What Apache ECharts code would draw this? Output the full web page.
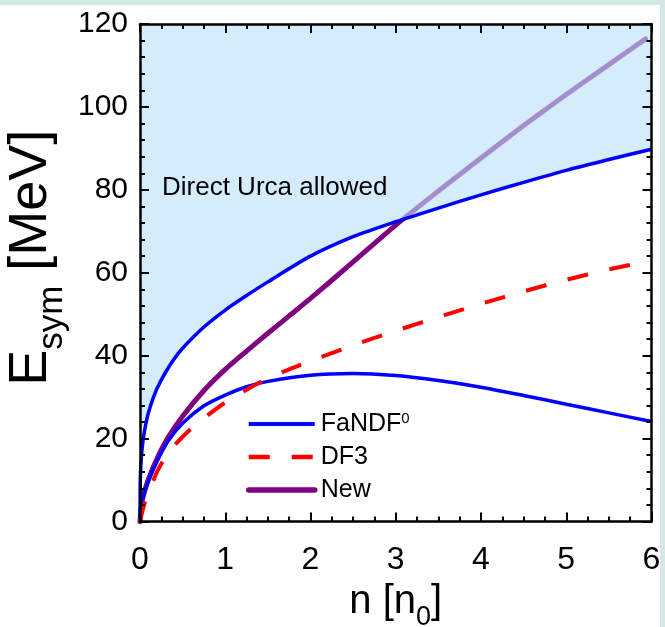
<!DOCTYPE html>
<html>
<head>
<meta charset="utf-8">
<script src="https://cdn.jsdelivr.net/npm/echarts@6/dist/echarts.min.js"></script>
<style>
html,body{margin:0;padding:0;background:#fff;}
#chart{width:665px;height:627px;}
</style>
</head>
<body>
<div id="chart"></div>
<script>
// ---- data ----
var fanUpperN = [0, 0.002, 0.005, 0.01, 0.02, 0.04, 0.07, 0.1, 0.15, 0.2, 0.3, 0.4, 0.5, 0.75, 1.0, 1.25, 1.5, 2.0, 2.5, 3.0, 3.5, 4.0, 4.5, 5.0, 5.5, 6.0];
var fanUpperE = [0, 8.5, 11.1, 13.5, 16.5, 20.2, 23.7, 26.3, 29.5, 32.1, 36.0, 39.2, 41.8, 46.9, 51.0, 54.5, 57.8, 64.0, 68.7, 72.3, 75.6, 78.8, 81.8, 84.7, 87.3, 89.8];

var fanLowerN = [0, 0.02, 0.05, 0.1, 0.2, 0.33, 0.5, 0.75, 1.0, 1.25, 1.5, 2.0, 2.5, 3.0, 3.5, 4.0, 4.5, 5.0, 5.5, 6.0];
var fanLowerE = [0, 4, 6.8, 9.8, 14.5, 19.4, 23.7, 27.9, 30.5, 32.5, 33.8, 35.3, 35.7, 35.2, 34.0, 32.4, 30.4, 28.3, 26.2, 24.1];

var df3N = [0, 0.05, 0.1, 0.2, 0.3, 0.4, 0.6, 0.8, 1.0, 1.25, 1.5, 1.75, 2.0, 2.5, 3.0, 3.5, 4.0, 4.5, 5.0, 5.5, 6.0];
var df3E = [0, 4.2, 7, 12, 15.6, 18.3, 22.4, 25.7, 28.7, 31.8, 34.5, 36.7, 38.7, 42.5, 46.0, 49.3, 52.5, 55.5, 58.3, 60.8, 63.0];

var newN = [0, 0.02, 0.05, 0.1, 0.2, 0.33, 0.5, 0.75, 1.0, 1.25, 1.5, 1.75, 2.0, 2.5, 3.0, 3.5, 4.0, 4.5, 5.0, 5.5, 5.93];
var newE = [0, 4.5, 7.0, 10.3, 15.2, 20.3, 25.4, 31.6, 36.7, 41.1, 45.4, 49.6, 53.8, 62.6, 71.5, 79.7, 87.7, 95.5, 103.0, 110.2, 116.4];

var xTicks = [0, 6, 1];      // min, max, interval
var yTicks = [0, 120, 20];
var legendNames = ['FaNDF0', 'DF3', 'New'];
var annotation = 'Direct Urca allowed';

function pairs(a, b) { return a.map(function (v, i) { return [v, b[i]]; }); }

var FONT = '"Liberation Sans", Arial, sans-serif';
var SMOOTH = 0.25;
var chart = echarts.init(document.getElementById('chart'), null, {renderer: 'canvas'});

function axisCommon(extra) {
  var base = {
    type: 'value', z: 10,
    nameMoveOverlap: false,
    axisLine: {show: true, onZero: false, lineStyle: {color: '#000', width: 2.5}},
    axisTick: {show: true, inside: true, length: 9, lineStyle: {color: '#000', width: 2}},
    splitLine: {show: false},
    minorSplitLine: {show: false}
  };
  for (var k in extra) base[k] = extra[k];
  return base;
}
var minorX = {show: true, splitNumber: 4, length: 5, lineStyle: {color: '#000', width: 2}};
var minorY = {show: true, splitNumber: 5, length: 5, lineStyle: {color: '#000', width: 2}};

var option = {
  animation: false,
  backgroundColor: '#ffffff',
  textStyle: {fontFamily: FONT},
  grid: {left: 140, top: 24, width: 511.5, height: 497.5, containLabel: false, outerBoundsMode: 'none'},
  graphic: [
    {type: 'rect', left: 0, top: 0, shape: {width: 665, height: 5}, style: {fill: '#d5e8e8'}, z: 100},
    {type: 'rect', left: 660, top: 0, shape: {width: 5, height: 627}, style: {fill: '#d5e8e8'}, z: 100},
    {type: 'text', left: 162, top: 175, z: 50,
     style: {text: annotation, font: '26px ' + FONT, fill: '#000'}}
  ],
  legend: {
    data: [
      {name: legendNames[0], lineStyle: {width: 4, color: '#0000ff'}},
      {name: legendNames[1], lineStyle: {width: 4.5, color: '#ff0000', type: [21, 22]}},
      {name: legendNames[2], lineStyle: {width: 5.5, color: '#800080'}}
    ],
    orient: 'vertical',
    left: 246, top: 411.5, padding: 0,
    itemWidth: 66, itemHeight: 14, itemGap: 8,
    itemStyle: {opacity: 0},
    textStyle: {
      fontSize: 25, color: '#000', fontFamily: FONT, lineHeight: 25, padding: [0, 0, 0, 1],
      rich: {
        m: {fontSize: 25, fontFamily: FONT, color: '#000', lineHeight: 25},
        sup: {fontSize: 15, fontFamily: FONT, color: '#000', verticalAlign: 'top', lineHeight: 25}
      }
    },
    formatter: function (name) {
      if (name === 'FaNDF0') return '{m|FaNDF}{sup|0}';
      return '{m|' + name + '}';
    }
  },
  xAxis: [
    axisCommon({
      min: xTicks[0], max: xTicks[1], interval: xTicks[2], position: 'bottom',
      minorTick: minorX,
      axisLabel: {fontSize: 32, color: '#000', margin: 14, padding: [9, 0, 0, 0], fontFamily: FONT},
      name: '{a|n [n}{s|0}{a|]}',
      nameLocation: 'middle', nameGap: 56,
      nameTextStyle: {
        rich: {
          a: {fontSize: 40, fontFamily: FONT, color: '#000', lineHeight: 48},
          s: {fontSize: 27, fontFamily: FONT, color: '#000', verticalAlign: 'bottom', lineHeight: 48, padding: [0, 0, -6, 0]}
        }
      }
    }),
    axisCommon({
      min: xTicks[0], max: xTicks[1], interval: xTicks[2], position: 'top',
      minorTick: minorX,
      axisLabel: {show: false}
    })
  ],
  yAxis: [
    axisCommon({
      min: yTicks[0], max: yTicks[1], interval: yTicks[2], position: 'left',
      minorTick: minorY,
      axisLabel: {fontSize: 30, color: '#000', margin: 12, fontFamily: FONT},
      name: '{a|E}{s|sym}{a| [MeV]}',
      nameLocation: 'middle', nameGap: 78, nameRotate: 90,
      nameTextStyle: {
        padding: [0, 0, 0, 30],
        rich: {
          a: {fontSize: 54, fontFamily: FONT, color: '#000', lineHeight: 62},
          s: {fontSize: 35, fontFamily: FONT, color: '#000', verticalAlign: 'bottom', lineHeight: 62, padding: [0, 0, -8, 0]}
        }
      }
    }),
    axisCommon({
      min: yTicks[0], max: yTicks[1], interval: yTicks[2], position: 'right',
      minorTick: minorY,
      axisLabel: {show: false}
    })
  ],
  series: [
    {
      name: 'New', type: 'line', z: 2, data: pairs(newN, newE), symbol: 'none',
      smooth: SMOOTH,
      xAxisIndex: 0, yAxisIndex: 0,
      lineStyle: {color: '#800080', width: 5, cap: 'round'}, itemStyle: {color: '#800080'}
    },
    {
      name: 'region', type: 'line', z: 3, data: pairs(fanUpperN, fanUpperE), symbol: 'none',
      smooth: SMOOTH,
      xAxisIndex: 0, yAxisIndex: 0, silent: true,
      lineStyle: {width: 0, opacity: 0},
      areaStyle: {origin: 'end', color: 'rgba(187,225,250,0.63)', opacity: 1}
    },
    {
      name: 'FaNDF0', type: 'line', z: 4, data: pairs(fanUpperN, fanUpperE), symbol: 'none',
      smooth: SMOOTH,
      xAxisIndex: 0, yAxisIndex: 0,
      lineStyle: {color: '#0000ff', width: 3.5}, itemStyle: {color: '#0000ff'}
    },
    {
      name: 'FaNDF0', type: 'line', z: 4, data: pairs(fanLowerN, fanLowerE), symbol: 'none',
      smooth: SMOOTH,
      xAxisIndex: 0, yAxisIndex: 0,
      lineStyle: {color: '#0000ff', width: 3.5}, itemStyle: {color: '#0000ff'}
    },
    {
      name: 'DF3', type: 'line', z: 4, data: pairs(df3N, df3E), symbol: 'none',
      smooth: SMOOTH,
      xAxisIndex: 0, yAxisIndex: 0,
      lineStyle: {color: '#ff0000', width: 4, type: [21, 22]}, itemStyle: {color: '#ff0000'}
    }
  ]
};
chart.setOption(option);
</script>
</body>
</html>
